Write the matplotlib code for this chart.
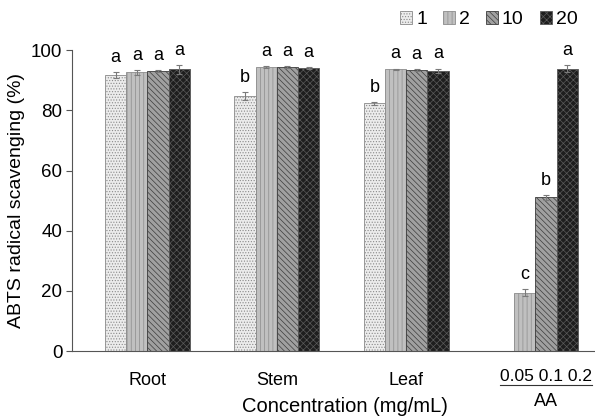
import numpy as np
import matplotlib
matplotlib.use('Agg')
import matplotlib.pyplot as plt
from matplotlib.patches import Patch

plt.rcParams['font.family'] = ['Liberation Sans', 'DejaVu Sans']
plt.rcParams['hatch.linewidth'] = 0.5

groups = ['Root', 'Stem', 'Leaf', 'AA']
series = ['1', '2', '10', '20']
values = {
    '1':  [91.9, 84.8, 82.4, np.nan],
    '2':  [92.6, 94.3, 93.7, 19.4],
    '10': [93.0, 94.3, 93.3, 51.1],
    '20': [93.6, 94.2, 93.1, 93.9],
}
errors = {
    '1':  [1.0, 1.4, 0.5, 0],
    '2':  [0.8, 0.3, 0.2, 1.2],
    '10': [0.3, 0.3, 0.3, 0.8],
    '20': [1.6, 0.3, 0.8, 1.2],
}
letters = {
    '1':  ['a', 'b', 'b', ''],
    '2':  ['a', 'a', 'a', 'c'],
    '10': ['a', 'a', 'a', 'b'],
    '20': ['a', 'a', 'a', 'a'],
}
aa_conc = '0.05 0.1 0.2'

styles = {
    '1':  dict(facecolor='#ececec', edgecolor='#8a8a8a', hatch='......'),
    '2':  dict(facecolor='#c0c0c0', edgecolor='#8c8c8c', hatch='||||'),
    '10': dict(facecolor='#a0a0a0', edgecolor='#3c3c3c', hatch='\\\\\\\\\\\\'),
    '20': dict(facecolor='#1e1e1e', edgecolor='#5a5a5a', hatch='xxxxx'),
}

fig = plt.figure(figsize=(5.95, 4.18), dpi=100)
ax = fig.add_axes([0.121, 0.16, 0.879, 0.72])

x = np.arange(len(groups))
w = 0.164
for i, s in enumerate(series):
    pos = x + (i - 1.5) * w
    vals = np.array(values[s])
    ax.bar(pos, vals, width=w, linewidth=0.6, **styles[s])
    ax.errorbar(pos, vals, yerr=errors[s], fmt='none', ecolor='#7a7a7a',
                elinewidth=0.8, capsize=2, capthick=0.8)
    for p, v, e, t in zip(pos, vals, errors[s], letters[s]):
        if t and not np.isnan(v):
            ax.text(p, v + e + 2, t, ha='center', va='bottom', fontsize=13)

ax.set_ylim(0, 100)
ax.set_xlim(-0.583, 3.46)
ax.set_yticks(np.arange(0, 101, 20))
ax.tick_params(axis='y', labelsize=13.5, length=4, color='#555555', pad=3)
ax.set_xticks(x[:3])
ax.set_xticklabels(groups[:3], fontsize=13)
ax.tick_params(axis='x', length=0, pad=15)
ax.spines['top'].set_visible(False)
ax.spines['right'].set_visible(False)
ax.spines['left'].set_color('#555555')
ax.spines['bottom'].set_color('#555555')
ax.set_ylabel('ABTS radical scavenging (%)', fontsize=14, labelpad=4)

# AA concentrations under the AA group
tr = ax.get_xaxis_transform()
conc = ax.text(x[3] + 0.5 * w, -0.06, aa_conc, transform=tr,
               ha='center', va='top', fontsize=12.5)
ax.text(x[3] + 0.5 * w, -0.14, 'AA', transform=tr,
        ha='center', va='top', fontsize=13)
fig.canvas.draw()
bb = conc.get_window_extent()
fig.add_artist(plt.Line2D([bb.x0 / fig.bbox.width, bb.x1 / fig.bbox.width],
                          [(bb.y0 - 1) / fig.bbox.height] * 2,
                          color='#333333', linewidth=0.8))

fig.text(0.58, 0.005, 'Concentration (mg/mL)', ha='center', va='bottom',
         fontsize=14.5)

handles = [Patch(label=s, linewidth=0.6, **styles[s]) for s in series]
fig.legend(handles=handles, loc='upper right', bbox_to_anchor=(1.0, 1.015),
           ncol=4, frameon=False, fontsize=14, handlelength=0.6,
           handleheight=0.6, handletextpad=0.2, columnspacing=0.85)

fig.savefig('out.png', dpi=100)
